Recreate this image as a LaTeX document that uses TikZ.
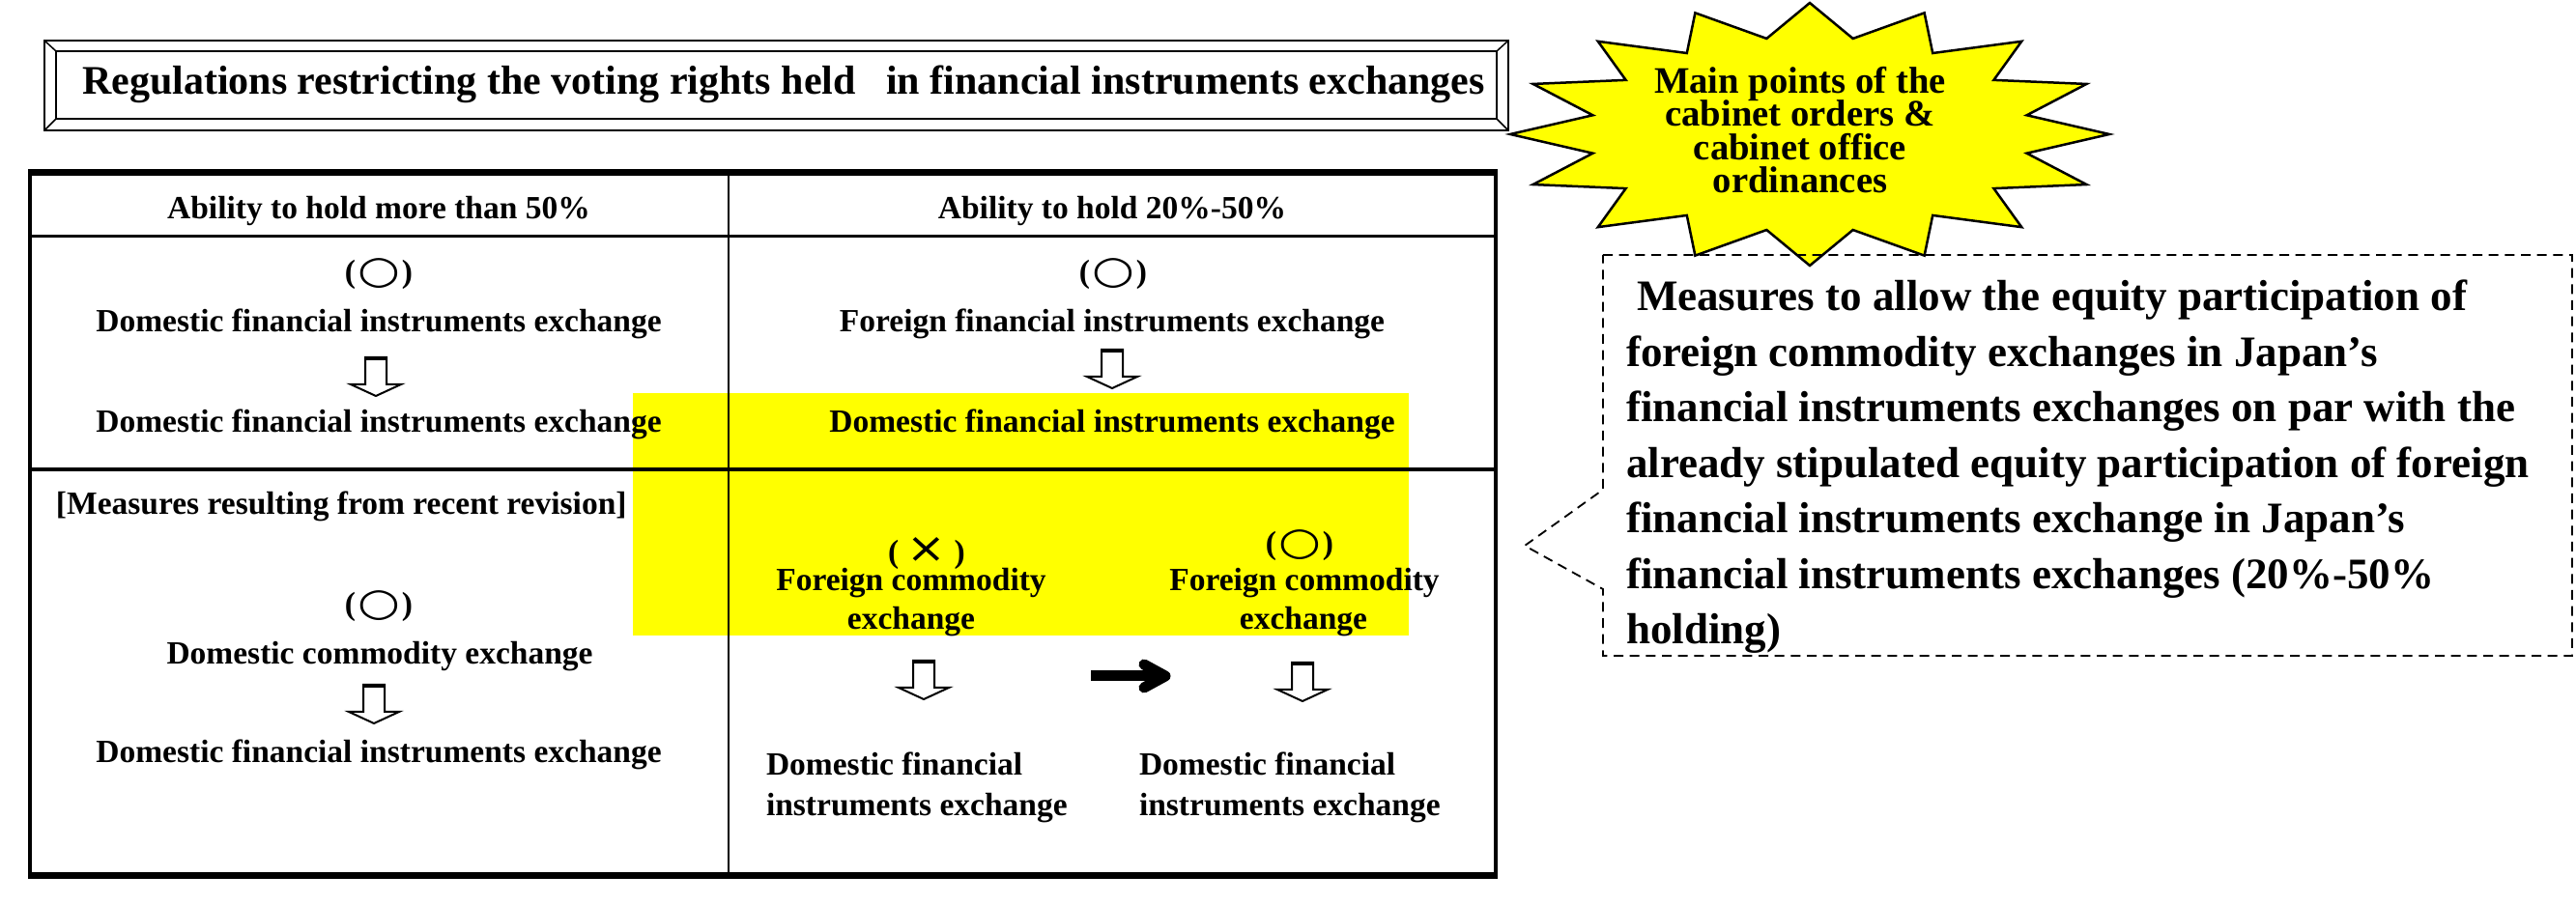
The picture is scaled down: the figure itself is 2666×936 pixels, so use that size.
\documentclass[tikz,border=0pt]{standalone}
\usepackage{fontspec}
\setmainfont{Liberation Serif}
\newfontfamily\symfont{DejaVu Sans}
\definecolor{hl}{RGB}{255,255,0}
\newcommand\maru{(\kern0.06em\raisebox{-0.02em}{\scalebox{1.5}[1.2]{\symfont\bfseries\char"25CB}}\kern0.06em)}
\newcommand\batsu{(\kern0.25em\raisebox{0.02em}{\scalebox{1.45}[1.3]{\symfont\mdseries\char"00D7}}\kern0.25em)}
\begin{document}
\begin{tikzpicture}[x=0.3pt,y=-0.3pt,
  every node/.style={inner sep=0pt, outer sep=0pt},
  tbl/.style={font=\fontsize{10.05}{12}\selectfont\bfseries, anchor=base},
  tbll/.style={font=\fontsize{10.05}{12}\selectfont\bfseries, anchor=base west},
  startxt/.style={font=\fontsize{11.6}{12}\selectfont\bfseries, anchor=base},
  boxtxt/.style={font=\fontsize{13.5}{16}\selectfont\bfseries, anchor=base west},
  ttl/.style={font=\fontsize{12.6}{14}\selectfont\bfseries, anchor=base},
  harrow/.pic={
    \draw[line width=0.6pt, fill=white, line join=miter]
      (-11,0) -- (11,0) -- (11,28) -- (26,28) -- (0,40) -- (-26,28) -- (-11,28) -- cycle;
    \draw[line width=1.2pt] (-11,1) -- (11,1);
  }
]
\fill[white] (0,0) rectangle (2666,936);
\useasboundingbox (0,0) rectangle (2666,936);

% title bevel box
\draw[line width=0.6pt] (46,42) rectangle (1561,135);
\draw[line width=0.75pt] (58,53) rectangle (1549,123);
\draw[line width=0.45pt] (46,42) -- (58,53) (1561,42) -- (1549,53)
  (46,135) -- (58,123) (1561,135) -- (1549,123);
\node[ttl] (title) at (811,98) {Regulations restricting the voting rights held \ \ in financial instruments exchanges};

% star
\draw[fill=hl, line width=0.75pt, line join=miter]
  (1873,3)
  \foreach \i in {0,...,14} {
    -- ({1873+229*sin(\i*22.5+11.25)},{139-101*cos(\i*22.5+11.25)})
    -- ({1873+310*sin(\i*22.5+22.5)},{139-136*cos(\i*22.5+22.5)})
  }
  -- ({1873+229*sin(348.75)},{139-101*cos(348.75)}) -- cycle;
\node[startxt] (s1) at (1863,97) {Main points of the};
\node[startxt] (s2) at (1863,131) {cabinet orders \&};
\node[startxt] (s3) at (1863,166) {cabinet office};
\node[startxt] (s4) at (1863,200) {ordinances};

% callout box
\draw[dashed, dash pattern=on 3pt off 2pt, line width=0.55pt]
  (1659,264) -- (2662,264) -- (2662,679) -- (1659,679) -- (1659,610)
  -- (1578,565) -- (1659,507) -- cycle;
\node[boxtxt] (b1) at (1694,322) {Measures to allow the equity participation of};
\node[boxtxt] (b2) at (1683,379.5) {foreign commodity exchanges in Japan’s};
\node[boxtxt] (b3) at (1683,437) {financial instruments exchanges on par with the};
\node[boxtxt] (b4) at (1683,494.5) {already stipulated equity participation of foreign};
\node[boxtxt] (b5) at (1683,552) {financial instruments exchange in Japan’s};
\node[boxtxt] (b6) at (1683,609.5) {financial instruments exchanges (20\%-50\%};
\node[boxtxt] (b7) at (1683,667) {holding)};

% highlight
\fill[hl] (655,407) rectangle (1458,658);

% table
\draw[line width=1.2pt] (31,177) -- (31,909);
\draw[line width=1.2pt] (1548,177) -- (1548,909);
\draw[line width=2.1pt] (29,179) -- (1550,179);
\draw[line width=2.1pt] (29,907) -- (1550,907);
\draw[line width=0.9pt] (31,245) -- (1548,245);
\draw[line width=1.1pt] (31,486) -- (1548,486);
\draw[line width=0.45pt] (754,179) -- (754,907);

% header
\node[tbl] (h1) at (392,227) {Ability to hold more than 50\%};
\node[tbl] (h2) at (1151,227) {Ability to hold 20\%-50\%};

% row 2 left
\node[tbl] (a1) at (392,293) {\maru};
\node[tbl] (a2) at (392,344) {Domestic financial instruments exchange};
\pic at (389,370) {harrow};
\node[tbl] (a3) at (392,448) {Domestic financial instruments exchange};

% row 2 right
\node[tbl] (c1) at (1152,293) {\maru};
\node[tbl] (c2) at (1151,344) {Foreign financial instruments exchange};
\pic at (1151,362) {harrow};
\node[tbl] (c3) at (1151,448) {Domestic financial instruments exchange};

% row 3 left
\node[tbll] (m1) at (58,533) {[Measures resulting from recent revision]};
\node[tbl] (d1) at (392,637) {\maru};
\node[tbl] (d2) at (393,688) {Domestic commodity exchange};
\pic at (387,709) {harrow};
\node[tbl] (d3) at (392,790) {Domestic financial instruments exchange};

% row 3 right
\node[tbl] (e1) at (959,583) {\batsu};
\node[tbl] (e2) at (943,612) {Foreign commodity};
\node[tbl] (e3) at (943,652) {exchange};
\pic at (956,684) {harrow};
\node[tbll] (e4) at (793,803) {Domestic financial};
\node[tbll] (e5) at (793,845) {instruments exchange};

\node[tbl] (f1) at (1345,574) {\maru};
\node[tbl] (f2) at (1350,612) {Foreign commodity};
\node[tbl] (f3) at (1349,652) {exchange};
\pic at (1348,686) {harrow};
\node[tbll] (f4) at (1179,803) {Domestic financial};
\node[tbll] (f5) at (1179,845) {instruments exchange};

% black arrow
\draw[line width=3.3pt] (1129,700) -- (1200,700);
\draw[line width=3.3pt, line cap=round, line join=round] (1184,688) -- (1206,700) -- (1184,712);
\end{tikzpicture}
\end{document}
